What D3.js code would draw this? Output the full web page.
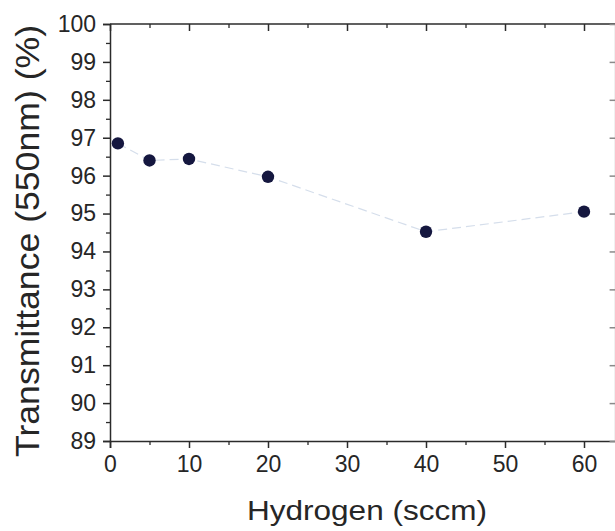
<!DOCTYPE html>
<html>
<head>
<meta charset="utf-8">
<script src="https://cdn.jsdelivr.net/npm/d3@7"></script>
<style>
  html, body { margin: 0; padding: 0; background: #fff; }
  svg { display: block; font-family: "Liberation Sans", Arial, sans-serif; }
</style>
</head>
<body>
<svg id="chart" width="615" height="531"></svg>
<script>
// Transmittance at 550 nm versus hydrogen flow
const hydrogen = [1, 5, 10, 20, 40, 60];
const transmittance = [96.85, 96.40, 96.44, 95.97, 94.52, 95.05];
const xTicks = [0, 10, 20, 30, 40, 50, 60];
const yTicks = [89, 90, 91, 92, 93, 94, 95, 96, 97, 98, 99, 100];

const svg = d3.select("#chart");
const plotLeft = 110, plotRight = 615.6, plotTop = 24, plotBottom = 441;

const x = d3.scaleLinear().domain([0, 64]).range([plotLeft, plotRight]);
const y = d3.scaleLinear().domain([89, 100]).range([plotBottom, plotTop]);

const axisColor = "#2b2b2b";
const textColor = "#262626";

// minor tick values
const xMinor = d3.range(5, 64, 10);
const yMinor = d3.range(89.5, 100, 1);

function styleAxis(g) {
  g.select(".domain").attr("stroke", axisColor).attr("stroke-width", 1.5);
  g.selectAll(".tick line").attr("stroke", axisColor).attr("stroke-width", 1.5);
}
function minorStyle(g) {
  g.select(".domain").remove();
  g.selectAll("line").attr("stroke", axisColor).attr("stroke-width", 1.3);
}

// bottom axis (outward ticks)
const gx = svg.append("g").attr("transform", `translate(0,${plotBottom})`)
  .call(d3.axisBottom(x).tickValues(xTicks).tickSize(7).tickPadding(8).tickFormat(d3.format("d")));
styleAxis(gx);
gx.selectAll(".tick text").attr("font-size", 23).attr("fill", textColor)
  .attr("font-family", "'Liberation Sans', Arial, sans-serif");
svg.append("g").attr("transform", `translate(0,${plotBottom})`)
  .call(d3.axisBottom(x).tickValues(xMinor).tickSize(4).tickFormat(""))
  .call(minorStyle);

// top axis (inward ticks)
const gt = svg.append("g").attr("transform", `translate(0,${plotTop})`)
  .call(d3.axisBottom(x).tickValues(xTicks).tickSize(7).tickFormat(""));
styleAxis(gt);
gt.select(".domain").attr("d", `M${plotLeft},0H${plotRight}`);
svg.append("g").attr("transform", `translate(0,${plotTop})`)
  .call(d3.axisBottom(x).tickValues(xMinor).tickSize(4).tickFormat(""))
  .call(minorStyle);

// left axis (outward ticks)
const gy = svg.append("g").attr("transform", `translate(${plotLeft},0)`)
  .call(d3.axisLeft(y).tickValues(yTicks).tickSize(7).tickPadding(7).tickFormat(d3.format("d")));
styleAxis(gy);
gy.selectAll(".tick text").attr("font-size", 23).attr("fill", textColor)
  .attr("font-family", "'Liberation Sans', Arial, sans-serif");
svg.append("g").attr("transform", `translate(${plotLeft},0)`)
  .call(d3.axisLeft(y).tickValues(yMinor).tickSize(4).tickFormat(""))
  .call(minorStyle);

// right axis (inward ticks)
const gr = svg.append("g").attr("transform", `translate(${plotRight},0)`)
  .call(d3.axisRight(y).tickValues(yTicks).tickSize(-6).tickFormat(""));
styleAxis(gr);
gr.select(".domain").attr("d", `M0,${plotBottom}V${plotTop}`).attr("stroke", "#9a9a9a");
gr.selectAll(".tick line").attr("stroke", "#8a8a8a");

// connecting line
const line = d3.line().x((d, i) => x(hydrogen[i])).y(d => y(d));
svg.append("path")
  .datum(transmittance)
  .attr("d", line)
  .attr("fill", "none")
  .attr("stroke", "#d5deeb")
  .attr("stroke-width", 1.2)
  .attr("stroke-dasharray", "9,5");

// markers
svg.append("g").selectAll("circle")
  .data(transmittance)
  .join("circle")
  .attr("cx", (d, i) => x(hydrogen[i]))
  .attr("cy", d => y(d))
  .attr("r", 6.2)
  .attr("fill", "#15173f");

// axis titles
svg.append("text")
  .attr("x", 367).attr("y", 520)
  .attr("text-anchor", "middle")
  .attr("font-size", 28)
  .attr("fill", textColor)
  .attr("textLength", 240)
  .attr("lengthAdjust", "spacingAndGlyphs")
  .text("Hydrogen (sccm)");

svg.append("text")
  .attr("transform", "translate(39,241) rotate(-90)")
  .attr("text-anchor", "middle")
  .attr("font-size", 34)
  .attr("fill", textColor)
  .attr("textLength", 432)
  .attr("lengthAdjust", "spacingAndGlyphs")
  .text("Transmittance (550nm) (%)");
</script>
</body>
</html>
